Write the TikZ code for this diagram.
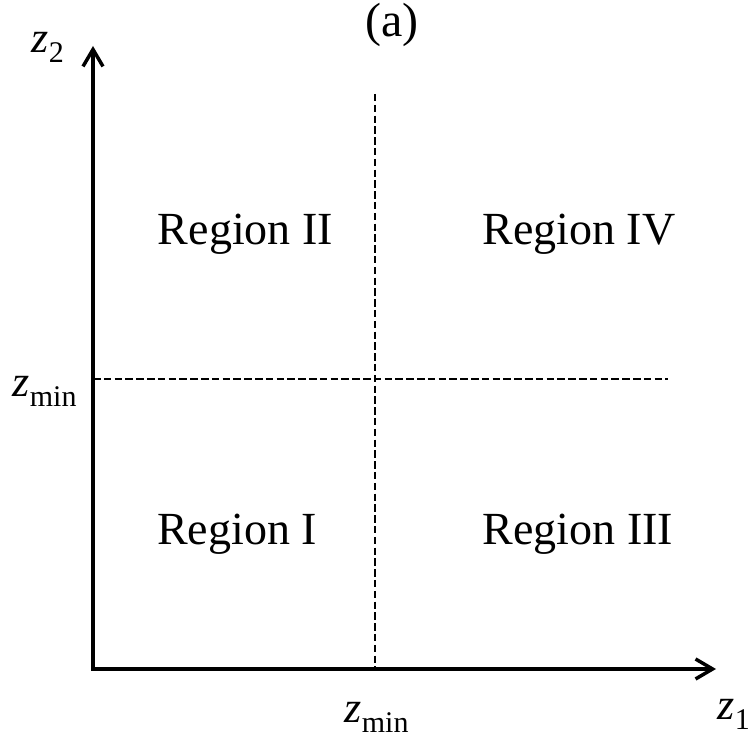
\documentclass[tikz,border=0pt]{standalone}
\usepackage{fontspec}
\setmainfont{Liberation Serif}
\usetikzlibrary{arrows.meta}
\newcommand{\zsub}[1]{{\itshape z}\kern0.5pt\raisebox{-10pt}{\fontsize{30}{30}\selectfont #1}}
\begin{document}
\begin{tikzpicture}[x=1pt,y=1pt,
  axis/.style={line width=3.5pt, -{Straight Barb[length=17pt,width=20pt]}},
  dashline/.style={line width=2.8pt, dash pattern=on 7.5pt off 3.3pt},
  lab/.style={inner sep=0pt, anchor=base, font=\fontsize{46}{52}\selectfont},
  zlab/.style={inner sep=0pt, anchor=base west, font=\fontsize{44}{50}\selectfont}]
\useasboundingbox (0,0) rectangle (755,746);
\coordinate (O) at (93,77);
\coordinate (ytip) at (93,700);
\coordinate (xtip) at (716,77);
\coordinate (vtop) at (375,652);
\coordinate (vbot) at (375,77);
\coordinate (hl) at (93,367);
\coordinate (hr) at (668,367);
\draw[dashline] (vtop) -- (vbot);
\draw[dashline] (hl) -- (hr);
\draw[axis, line cap=butt] ([yshift=-1.75pt]O) -- (ytip);
\draw[axis] ([xshift=-1.75pt]O) -- (xtip);
\node[lab, font=\fontsize{48}{54}\selectfont] (ta) at (392,709) {(a)};
\node[lab] (r2) at (245.5,501) {Region II};
\node[lab] (r4) at (579,501) {Region IV};
\node[lab] (r1) at (237,201) {Region I};
\node[lab] (r3) at (578,201) {Region III};
\node[zlab] (z2) at (31,693) {\zsub{2}};
\node[zlab] (zml) at (12,349) {\zsub{min}};
\node[zlab] (zmb) at (344,23) {\zsub{min}};
\node[zlab] (z1) at (717,26) {\zsub{1}};
\end{tikzpicture}
\end{document}
